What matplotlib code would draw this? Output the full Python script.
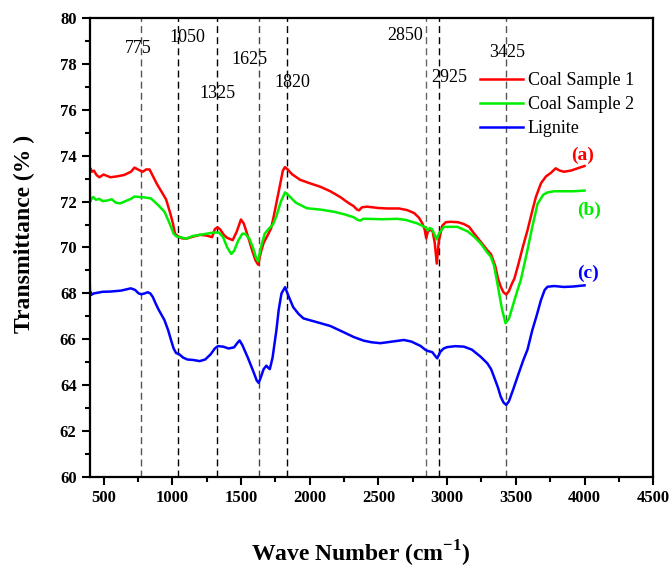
import matplotlib
matplotlib.use("Agg")
import matplotlib.pyplot as plt
from matplotlib.ticker import MultipleLocator

plt.rcParams["font.family"] = ["Liberation Serif", "DejaVu Serif"]
plt.rcParams["mathtext.fontset"] = "custom"
plt.rcParams["mathtext.rm"] = "Liberation Serif"
plt.rcParams["mathtext.bf"] = "Liberation Serif:bold"

# coal sample 1 (red)
wn_coal1 = [400, 405, 415, 430, 450, 470, 500, 550, 600, 650, 700, 725, 750, 785, 810,
            835, 860, 890, 920, 955, 985, 1005, 1020, 1040, 1070, 1100, 1150, 1200, 1250,
            1290, 1310, 1330, 1350, 1375, 1400, 1440, 1470, 1500, 1520, 1550, 1580, 1605,
            1625, 1645, 1665, 1700, 1720, 1740, 1760, 1785, 1805, 1820, 1840, 1870, 1930,
            2000, 2076, 2150, 2222, 2280, 2320, 2345, 2360, 2380, 2417, 2500, 2563, 2650,
            2709, 2760, 2795, 2820, 2836, 2848, 2860, 2879, 2895, 2910, 2925, 2940, 2965,
            2990, 3025, 3080, 3122, 3160, 3195, 3244, 3290, 3320, 3350, 3370, 3390, 3410,
            3430, 3450, 3470, 3490, 3520, 3550, 3585, 3620, 3646, 3683, 3720, 3755, 3790,
            3820, 3850, 3900, 3950, 4000]
t_coal1 = [73.3, 73.45, 73.3, 73.35, 73.15, 73.06, 73.18, 73.06, 73.1, 73.16, 73.3, 73.48,
           73.4, 73.3, 73.4, 73.4, 73.1, 72.75, 72.45, 72.1, 71.5, 71.05, 70.6, 70.5, 70.4,
           70.38, 70.47, 70.55, 70.52, 70.45, 70.8, 70.88, 70.78, 70.55, 70.42, 70.32, 70.7,
           71.22, 71.05, 70.5, 69.9, 69.45, 69.25, 69.8, 70.2, 70.6, 70.85, 71.4, 72.0, 72.75,
           73.35, 73.5, 73.4, 73.2, 72.95, 72.8, 72.65, 72.45, 72.2, 71.95, 71.8, 71.65,
           71.62, 71.75, 71.78, 71.72, 71.7, 71.7, 71.63, 71.5, 71.3, 71.05, 70.8, 70.4,
           70.7, 70.78, 70.7, 70.2, 69.3, 70.3, 70.95, 71.1, 71.12, 71.1, 71.02, 70.9, 70.62,
           70.25, 69.9, 69.7, 69.2, 68.65, 68.3, 68.05, 67.95, 68.1, 68.4, 68.65, 69.3, 70.0,
           70.75, 71.6, 72.2, 72.8, 73.1, 73.25, 73.45, 73.35, 73.3, 73.35, 73.45, 73.55]

# coal sample 2 (green)
wn_coal2 = [400, 403, 410, 425, 444, 470, 493, 530, 560, 590, 620, 660, 700, 724, 760, 800,
            845, 870, 905, 943, 970, 991, 1010, 1030, 1060, 1100, 1150, 1200, 1250, 1300,
            1340, 1370, 1400, 1429, 1450, 1480, 1510, 1530, 1560, 1590, 1610, 1625, 1645,
            1673, 1700, 1733, 1760, 1790, 1821, 1850, 1900, 1980, 2080, 2174, 2250, 2320,
            2350, 2368, 2390, 2417, 2530, 2636, 2700, 2782, 2843, 2860, 2874, 2890, 2910,
            2923, 2940, 2977, 3074, 3150, 3200, 3244, 3290, 3318, 3342, 3370, 3400, 3425,
            3450, 3480, 3510, 3537, 3585, 3620, 3658, 3700, 3731, 3780, 3850, 3920, 4000]
t_coal2 = [72.75, 72.0, 72.1, 72.2, 72.08, 72.12, 72.02, 72.05, 72.1, 71.95, 71.92, 72.02,
           72.12, 72.22, 72.2, 72.18, 72.14, 72.0, 71.8, 71.56, 71.2, 70.9, 70.6, 70.48,
           70.45, 70.38, 70.5, 70.55, 70.6, 70.65, 70.65, 70.45, 70.0, 69.72, 69.85, 70.3,
           70.6, 70.6, 70.4, 69.95, 69.55, 69.4, 70.0, 70.6, 70.8, 71.0, 71.4, 72.0, 72.4,
           72.25, 71.95, 71.71, 71.65, 71.56, 71.45, 71.32, 71.2, 71.17, 71.25, 71.25, 71.23,
           71.25, 71.2, 71.05, 70.88, 70.75, 70.85, 70.8, 70.55, 70.35, 70.6, 70.9, 70.9,
           70.7, 70.45, 70.18, 69.8, 69.6, 69.2, 68.3, 67.3, 66.7, 66.9, 67.5, 68.1, 68.6,
           69.9, 70.9, 71.9, 72.3, 72.4, 72.45, 72.45, 72.45, 72.48]

# lignite (blue)
wn_lignite = [400, 402, 406, 415, 430, 450, 493, 550, 626, 670, 699, 730, 755, 775, 800,
              821, 840, 858, 880, 900, 943, 970, 991, 1010, 1028, 1050, 1080, 1110, 1150,
              1200, 1240, 1280, 1310, 1332, 1370, 1410, 1450, 1475, 1490, 1510, 1550, 1590,
              1615, 1629, 1645, 1665, 1685, 1700, 1710, 1730, 1758, 1775, 1795, 1821, 1845,
              1880, 1920, 1955, 2050, 2150, 2250, 2320, 2393, 2450, 2515, 2600, 2685, 2740,
              2807, 2840, 2855, 2892, 2910, 2928, 2950, 2975, 3001, 3060, 3122, 3180, 3244,
              3293, 3320, 3341, 3370, 3390, 3410, 3430, 3450, 3480, 3520, 3555, 3585, 3620,
              3650, 3683, 3710, 3731, 3780, 3850, 3920, 4000]
t_lignite = [68.45, 67.9, 68.05, 67.95, 68.0, 68.02, 68.07, 68.08, 68.12, 68.18, 68.22,
             68.15, 68.0, 67.96, 68.0, 68.05, 68.0, 67.85, 67.55, 67.3, 66.84, 66.4, 65.97,
             65.6, 65.4, 65.35, 65.2, 65.12, 65.1, 65.05, 65.12, 65.35, 65.6, 65.7, 65.68,
             65.6, 65.65, 65.85, 65.95, 65.75, 65.2, 64.6, 64.2, 64.1, 64.35, 64.7, 64.85,
             64.75, 64.7, 65.2, 66.4, 67.3, 68.0, 68.27, 67.9, 67.4, 67.1, 66.91, 66.75,
             66.58, 66.3, 66.1, 65.94, 65.87, 65.83, 65.9, 65.97, 65.9, 65.71, 65.55, 65.5,
             65.44, 65.3, 65.17, 65.45, 65.6, 65.66, 65.7, 65.68, 65.55, 65.24, 64.95, 64.7,
             64.37, 63.9, 63.5, 63.25, 63.14, 63.3, 63.8, 64.5, 65.1, 65.55, 66.4, 67.0,
             67.71, 68.15, 68.29, 68.32, 68.28, 68.3, 68.35]

# band markers: where the dashed line sits, its label, and where the label sits
band_pos = [775, 1040, 1327, 1631, 1833, 2848, 2943, 3432]
band_text = ["775", "1050", "1325", "1625", "1820", "2850", "2925", "3425"]
band_label_x = [755, 1111, 1332, 1560, 1874, 2697, 3013, 3439]
band_label_y = [78.65, 79.16, 76.7, 78.2, 77.2, 79.23, 77.4, 78.5]
band_color = ["#555555", "black", "black", "#444444", "black", "#666666", "black", "#555555"]

series_labels = ["Coal Sample 1", "Coal Sample 2", "Lignite"]
series_colors = ["#ff0000", "#00ee00", "#0000ff"]
tags = ["(a)", "(b)", "(c)"]
tag_x = [3987, 4033, 4023]
tag_y = [74.03, 71.63, 68.88]

fig = plt.figure(figsize=(6.7, 5.69), dpi=100)
ax = fig.add_axes([0.134, 0.1617, 0.841, 0.8067])

for xp, c in zip(band_pos, band_color):
    ax.axvline(xp, color=c, lw=1.0, ls=(0, (5, 3)), zorder=1)
for txt, lx, ly in zip(band_text, band_label_x, band_label_y):
    ax.text(lx, ly, txt, fontsize=13, ha="center", va="center")

for xs, ys, lab, col in zip([wn_coal1, wn_coal2, wn_lignite],
                            [t_coal1, t_coal2, t_lignite],
                            series_labels, series_colors):
    ax.plot(xs, ys, color=col, lw=1.8, label=lab, zorder=2)

for t, tx, ty, col in zip(tags, tag_x, tag_y, series_colors):
    ax.text(tx, ty, t, color=col, fontsize=14, fontweight="bold", ha="center", va="center")

ax.set_xlim(400, 4500)
ax.set_ylim(60, 80)
ax.xaxis.set_major_locator(MultipleLocator(500))
ax.xaxis.set_minor_locator(MultipleLocator(250))
ax.yaxis.set_major_locator(MultipleLocator(2))
ax.yaxis.set_minor_locator(MultipleLocator(1))
ax.tick_params(which="major", direction="out", length=6, width=1.5, labelsize=12)
ax.tick_params(which="minor", direction="out", length=3.5, width=1.5)
for lab in ax.get_xticklabels() + ax.get_yticklabels():
    lab.set_fontweight("bold")
for sp in ax.spines.values():
    sp.set_linewidth(1.6)

ax.set_xlabel(r"Wave Number (cm$^{\mathbf{-1}}$)", fontsize=17, fontweight="bold")
ax.xaxis.set_label_coords(0.48, -0.135)
ax.set_ylabel("Transmittance (% )", fontsize=17, fontweight="bold")
ax.yaxis.set_label_coords(-0.098, 0.53)

ax.legend(loc="upper left", bbox_to_anchor=(480 / 670, 1 - 72 / 569),
          bbox_transform=fig.transFigure, frameon=False, fontsize=13,
          handlelength=2.4, handletextpad=0.25, labelspacing=0.4,
          borderpad=0, borderaxespad=0)

plt.savefig("out.png", dpi=100)
